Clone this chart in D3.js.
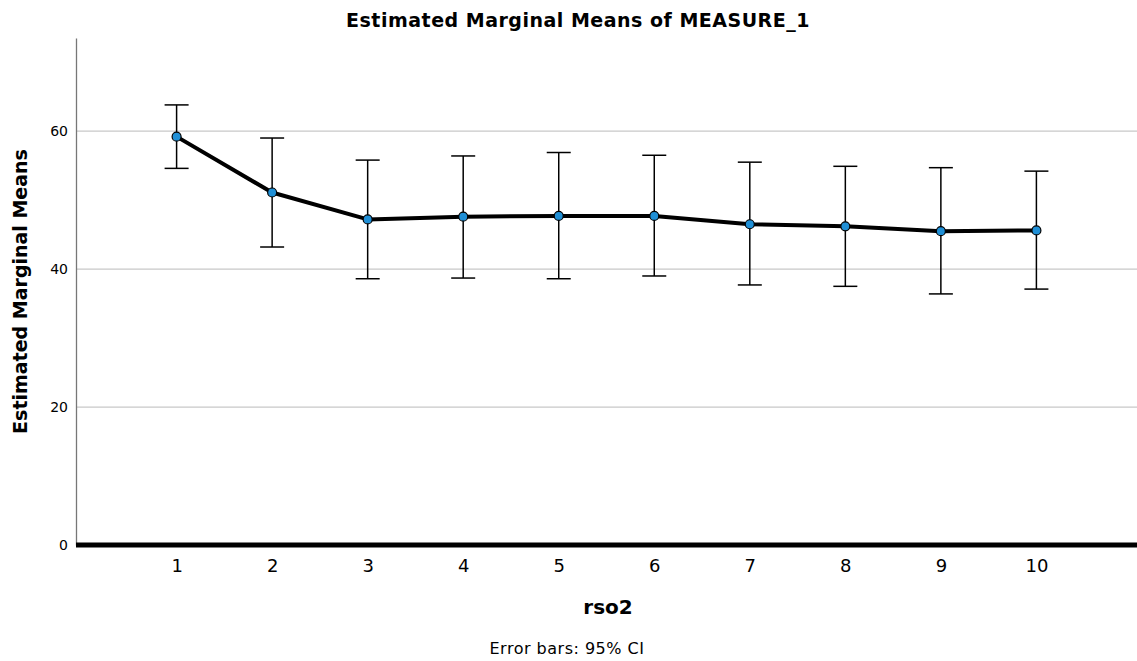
<!DOCTYPE html>
<html lang="en">
<head>
<script type="text/javascript" src="https://cdnjs.cloudflare.com/ajax/libs/d3/7.8.5/d3.min.js"></script>
<style>
body { margin: 0; background: #fff; }
text { font-family: "DejaVu Sans", sans-serif; }
</style>
</head>
<body>
<script type="text/javascript">
    // rso2 levels and estimated marginal means with 95% CI
    var categories = ["1", "2", "3", "4", "5", "6", "7", "8", "9", "10"]
    var means = [59.2, 51.1, 47.2, 47.6, 47.7, 47.7, 46.5, 46.2, 45.5, 45.6]
    var ciLower = [54.6, 43.2, 38.6, 38.7, 38.6, 39.0, 37.7, 37.5, 36.4, 37.1]
    var ciUpper = [63.8, 59.0, 55.8, 56.4, 56.9, 56.5, 55.5, 54.9, 54.7, 54.2]
    var yTicks = [0, 20, 40, 60]

    var data = categories.map(function(c, i) {
        return {cat: c, mean: means[i], lo: ciLower[i], hi: ciUpper[i]}
    })

    var w = 1137
    var h = 661
    var plotLeft = 76, plotRight = 1137, plotTop = 38, plotBottom = 545

    var svg = d3.select("body")
                .append("svg")
                .attr("width", w)
                .attr("height", h)

    var x = d3.scalePoint()
              .domain(categories)
              .range([plotLeft, plotRight])
              .padding(1.053)

    var y = d3.scaleLinear()
              .domain([0, 73.5])
              .range([plotBottom, plotTop])

    // gridlines
    svg.selectAll("line.grid")
        .data(yTicks.filter(function(d) { return d > 0 }))
        .enter()
        .append("line")
        .attr("class", "grid")
        .attr("x1", plotLeft)
        .attr("x2", plotRight)
        .attr("y1", function(d) { return y(d) })
        .attr("y2", function(d) { return y(d) })
        .attr("stroke", "#c8c8c8")
        .attr("stroke-width", 1.3)

    // y axis
    var yAxis = d3.axisLeft(y).tickValues(yTicks).tickSize(0).tickPadding(8)
    var gy = svg.append("g")
        .attr("transform", "translate(" + plotLeft + ",0)")
        .call(yAxis)
    gy.select(".domain").attr("stroke", "#777").attr("stroke-width", 1.3)
    gy.selectAll("text")
        .attr("font-size", "14px")
        .attr("fill", "#000")
        .attr("font-family", "DejaVu Sans, sans-serif")

    // x axis
    var xAxis = d3.axisBottom(x).tickSize(0).tickPadding(14)
    var gx = svg.append("g")
        .attr("transform", "translate(0," + plotBottom + ")")
        .call(xAxis)
    gx.select(".domain").remove()
    gx.selectAll("text")
        .attr("font-size", "18px")
        .attr("fill", "#000")
        .attr("font-family", "DejaVu Sans, sans-serif")

    svg.append("line")
        .attr("x1", plotLeft)
        .attr("x2", plotRight)
        .attr("y1", y(0))
        .attr("y2", y(0))
        .attr("stroke", "#000")
        .attr("stroke-width", 5)

    // error bars
    var eb = svg.selectAll("g.eb")
        .data(data)
        .enter()
        .append("g")
        .attr("class", "eb")
    eb.append("line")
        .attr("x1", function(d) { return x(d.cat) })
        .attr("x2", function(d) { return x(d.cat) })
        .attr("y1", function(d) { return y(d.lo) })
        .attr("y2", function(d) { return y(d.hi) })
        .attr("stroke", "#000")
        .attr("stroke-width", 1.5)
    eb.append("line")
        .attr("x1", function(d) { return x(d.cat) - 12 })
        .attr("x2", function(d) { return x(d.cat) + 12 })
        .attr("y1", function(d) { return y(d.hi) })
        .attr("y2", function(d) { return y(d.hi) })
        .attr("stroke", "#000")
        .attr("stroke-width", 1.5)
    eb.append("line")
        .attr("x1", function(d) { return x(d.cat) - 12 })
        .attr("x2", function(d) { return x(d.cat) + 12 })
        .attr("y1", function(d) { return y(d.lo) })
        .attr("y2", function(d) { return y(d.lo) })
        .attr("stroke", "#000")
        .attr("stroke-width", 1.5)

    // mean line
    var line = d3.line()
        .x(function(d) { return x(d.cat) })
        .y(function(d) { return y(d.mean) })
    svg.append("path")
        .datum(data)
        .attr("d", line)
        .attr("fill", "none")
        .attr("stroke", "#000")
        .attr("stroke-width", 4)
        .attr("stroke-linejoin", "round")

    svg.selectAll("circle")
        .data(data)
        .enter()
        .append("circle")
        .attr("cx", function(d) { return x(d.cat) })
        .attr("cy", function(d) { return y(d.mean) })
        .attr("r", 4.5)
        .attr("fill", "#1f8fd6")
        .attr("stroke", "#000")
        .attr("stroke-width", 1.2)

    // titles
    svg.append("text")
        .text("Estimated Marginal Means of MEASURE_1")
        .attr("x", 578)
        .attr("y", 27)
        .attr("text-anchor", "middle")
        .attr("font-size", "19px")
        .attr("letter-spacing", "0.5px")
        .attr("font-weight", "bold")

    svg.append("text")
        .text("rso2")
        .attr("x", 608)
        .attr("y", 614)
        .attr("text-anchor", "middle")
        .attr("font-size", "20px")
        .attr("font-weight", "bold")

    svg.append("text")
        .text("Estimated Marginal Means")
        .attr("transform", "translate(27," + (y(0) + y(73.5)) / 2 + ") rotate(-90)")
        .attr("text-anchor", "middle")
        .attr("font-size", "19px")
        .attr("font-weight", "bold")

    svg.append("text")
        .text("Error bars: 95% CI")
        .attr("x", 567)
        .attr("y", 654)
        .attr("text-anchor", "middle")
        .attr("font-size", "16px")
        .attr("letter-spacing", "0.5px")
</script>
</body>
</html>
